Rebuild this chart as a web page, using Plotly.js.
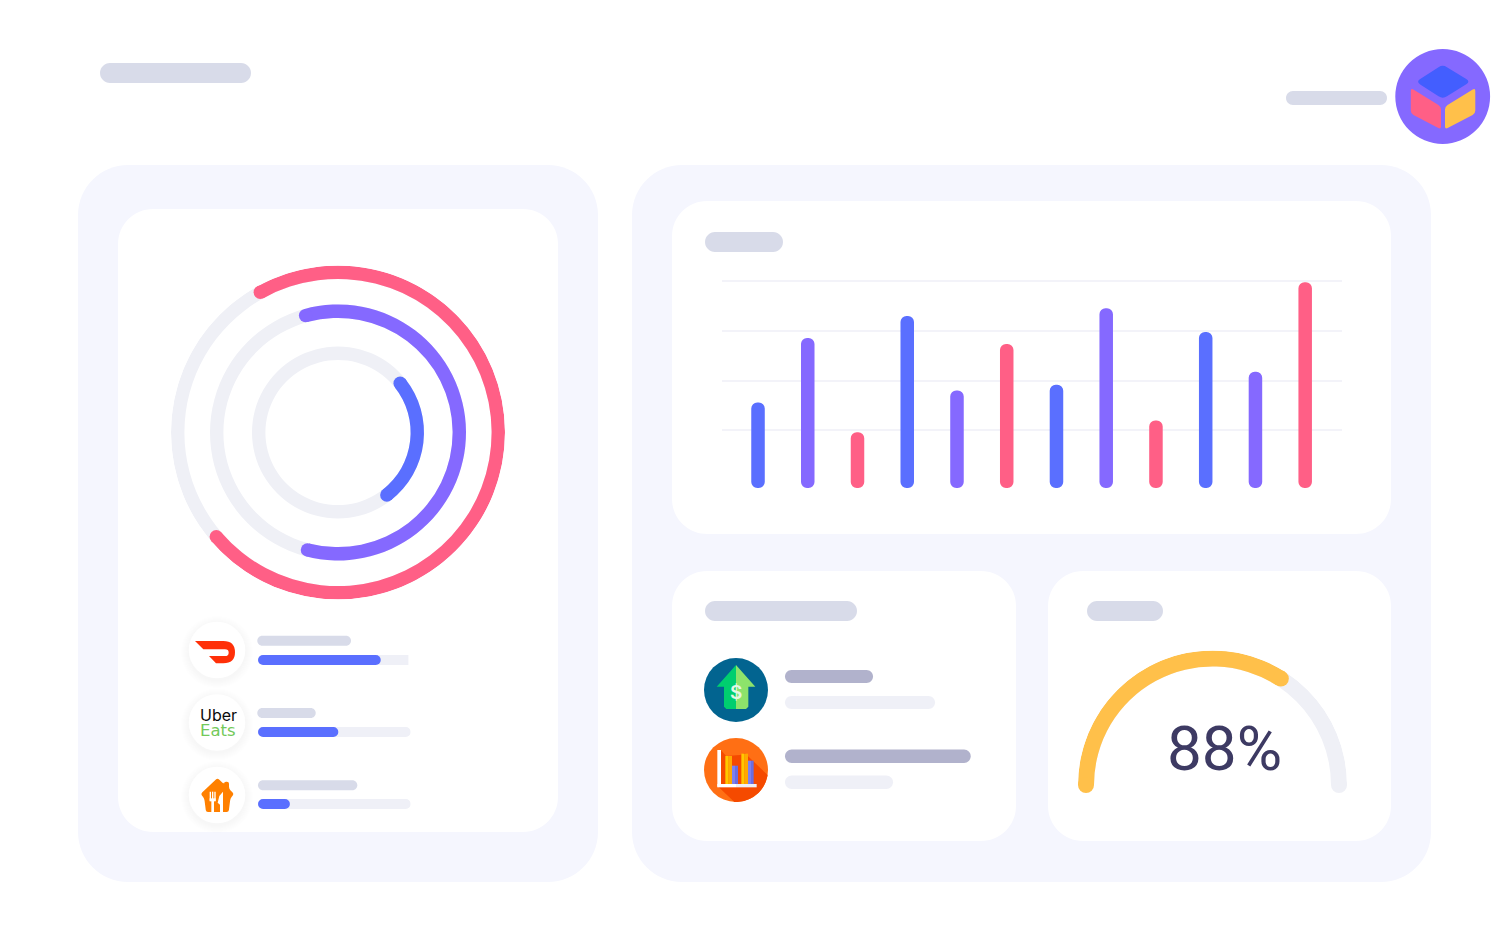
<!DOCTYPE html>
<html><head><meta charset="utf-8">
<script src="https://cdn.plot.ly/plotly-3.0.1.min.js"></script>
<style>html,body{margin:0;padding:0;background:#fff;overflow:hidden}#c{width:1510px;height:949px}</style>
</head><body><div id="c"></div>
<script>
// ---- data ----
const barCategories=['1','2','3','4','5','6','7','8','9','10','11','12'];
const barValues=[78,143,48,165,90,137,96,173,60,149,109,199];
const barColors=['#5a6fff','#8569ff','#ff5f86','#5a6fff','#8569ff','#ff5f86','#5a6fff','#8569ff','#ff5f86','#5a6fff','#8569ff','#ff5f86'];
const gridValues=[50,100,150,200];
const ringRadius=[160.3,121.3,79.3];
const ringStart=[-29,-15.5,51.6];
const ringEnd=[229.4,194.6,142];
const ringColors=['#ff5f86','#8569ff','#5a6fff'];
const gaugeStart=-90, gaugeEnd=32.7, gaugeTrackEnd=90;
const gaugeLabel='88%';
const providers=['DoorDash','Uber Eats','Just Eat'];
const progressValues=[80.4,52.6,20.9];
const progressTrack=[98.5,100,100];

// ---- page helpers ----
const W=1510,H=949;
const X=v=>+(v/W).toFixed(6), Y=v=>+(1-v/H).toFixed(6);
const shapes=[];
const cmd=a=>a.map(c=>{const out=[];for(let i=1;i<c.length;i+=2){out.push(X(c[i])+','+Y(c[i+1]));}return c[0]+out.join(' ');}).join(' ');
function fillPath(a,color,op){shapes.push({type:'path',xref:'paper',yref:'paper',layer:'below',path:cmd(a)+' Z',fillcolor:color,opacity:op==null?1:op,line:{width:0}});}
function rr(x0,y0,x1,y1,r,color){
  const k=r*0.4477;
  fillPath([['M',x0+r,y0],['L',x1-r,y0],['C',x1-k,y0,x1,y0+k,x1,y0+r],['L',x1,y1-r],['C',x1,y1-k,x1-k,y1,x1-r,y1],['L',x0+r,y1],['C',x0+k,y1,x0,y1-k,x0,y1-r],['L',x0,y0+r],['C',x0,y0+k,x0+k,y0,x0+r,y0]],color);
}
function pill(x0,y0,x1,y1,color){rr(x0,y0,x1,y1,(y1-y0)/2,color);}
function circle(cx,cy,r,color,op){shapes.push({type:'circle',xref:'paper',yref:'paper',layer:'below',x0:X(cx-r),x1:X(cx+r),y0:Y(cy+r),y1:Y(cy-r),fillcolor:color,opacity:op==null?1:op,line:{width:0}});}
function rect(x0,y0,x1,y1,color){fillPath([['M',x0,y0],['L',x1,y0],['L',x1,y1],['L',x0,y1]],color);}
function poly(pts,color){fillPath(pts.map((p,i)=>[i?'L':'M',p[0],p[1]]),color);}
function roundPoly(pts,r,color){
  const a=[];const n=pts.length;
  pts.forEach((p,i)=>{
    const q=pts[(i+n-1)%n],s=pts[(i+1)%n];
    const dq=Math.hypot(q[0]-p[0],q[1]-p[1]),ds=Math.hypot(s[0]-p[0],s[1]-p[1]);
    const a0=[p[0]+(q[0]-p[0])*r/dq,p[1]+(q[1]-p[1])*r/dq],a1=[p[0]+(s[0]-p[0])*r/ds,p[1]+(s[1]-p[1])*r/ds];
    a.push([i?'L':'M',a0[0],a0[1]]);a.push(['Q',p[0],p[1],a1[0],a1[1]]);
  });
  fillPath(a,color);
}

// panels
const PANEL='#f5f6fe',SK='#d8dbe9',SKD='#b1b2cc',SKL='#eff0f7';
rr(78,165,598,882,50,PANEL);
rr(632,165,1431,882,50,PANEL);
rr(118,209,558,832,35,'#fff');
rr(672,201,1391,534,35,'#fff');
rr(672,571,1016,841,35,'#fff');
rr(1048,571,1391,841,35,'#fff');
// skeleton headings
pill(100,63,251,83,SK);
pill(1286,91,1387,105,SK);
pill(705,232,783,252,SK);
pill(705,601,857,621,SK);
pill(1087,601,1163,621,SK);
// finance rows
pill(785,670,873,683,SKD);
pill(785,696,935,709,SKL);
pill(785,749.5,970.7,762.9,SKD);
pill(785,775.5,893,788.9,SKL);
// provider headings
pill(257.3,635.7,351,645.7,SK);
pill(257.3,708,315.7,718,SK);
pill(258,780.3,357.3,790.3,SK);

// cube avatar
circle(1442.7,96.5,47.4,'#8569ff');
roundPoly([[1416,81.7],[1442.7,64.5],[1470.5,81.7],[1442.7,99]],5,'#435eff');
roundPoly([[1410.8,88],[1441,106.5],[1441,129.5],[1410.8,113.5]],3,'#ff5f86');
roundPoly([[1445,106.5],[1475.3,88],[1475.3,113.5],[1445,129.5]],3,'#ffc04a');

// provider icon discs with soft shadow
[[217,650],[217,722.5],[217,795]].forEach(c=>{
  [36,35,34,33,32,31,30,29].forEach(r=>circle(c[0],c[1]+2,r,'#6b6fa0',0.006));
  circle(c[0],c[1],28.3,'#fff');
});
// DoorDash mark
const z1=(x,y)=>[160+x/3,610+y/3];
(function(){
 const p=z1;
 const a=[['M',...p(105,93)],['L',...p(190,93)],['Q',...p(225,93),...p(225,127)],['Q',...p(225,160),...p(190,160)],['L',...p(168,160)],['L',...p(147,138)],['L',...p(195,138)],['Q',...p(206,138),...p(206,128)],['Q',...p(206,118),...p(195,118)],['L',...p(130,118)]];
 fillPath(a,'#ff3008');
})();
// Takeaway mark
(function(){
 const p=z1;
 roundPoly([p(172,504),p(192,522),p(192,515),p(207,515),p(207,536),p(222,552),p(211,566),p(206,606),p(138,606),p(133,566),p(122,552)],2,'#ff8000');
 // fork
 rect(...p(149,545),...p(153,572),'#fff');
 rect(...p(156,545),...p(160,572),'#fff');
 rect(...p(163,545),...p(167,572),'#fff');
 rect(...p(149,565),...p(167,574),'#fff');
 rect(...p(154,572),...p(162,606),'#fff');
 // knife
 poly([p(189,545),p(189,606),p(180,606),p(180,584),p(173,578),p(178,558)],'#fff');
})();

// finance icons
const z2=(x,y)=>[690+x/3,640+y/3];
circle(736,690,32,'#026490');
(function(){const p=z2;
 poly([p(138,75),p(80,140),p(102,140),p(102,200),p(109,207),p(138,207)],'#00ce6f');
 poly([p(138,75),p(196,140),p(175,140),p(175,200),p(168,207),p(138,207)],'#8de36b');
})();
circle(736,770,32,'#ff6f14');
(function(){const p=z2;
 const arc=[];for(let t=99;t<=188;t+=6){const r=t*Math.PI/180;arc.push([736+32*Math.sin(r),770-32*Math.cos(r)]);}
 poly([p(93,330),p(108,348),p(150,345),p(165,340),...arc,p(85,440)],'#f54a00');
 rect(...p(82,330),...p(93,440),'#fff');
 rect(...p(82,432),...p(138,442),'#fff');
 rect(...p(138,432),...p(200,442),'#eef0f6');
 rect(...p(106,348),...p(116,432),'#ffc800');
 rect(...p(116,348),...p(126,432),'#ffa800');
 rect(...p(126,377),...p(135,432),'#7d80ee');
 rect(...p(135,377),...p(144,432),'#6a6de0');
 rect(...p(154,341),...p(164,432),'#ffc800');
 rect(...p(164,341),...p(174,432),'#ffa800');
 rect(...p(174,362),...p(183,432),'#7d80ee');
 rect(...p(183,362),...p(191,432),'#6a6de0');
})();

// ---- traces ----
const traces=[];
const RT=13.4;
// rings: polar subplot 1
traces.push({type:'barpolar',subplot:'polar',hoverinfo:'skip',
  r:ringRadius.map(()=>RT),base:ringRadius.map(r=>r-RT/2),theta:ringRadius.map(()=>180),width:ringRadius.map(()=>359.99),
  marker:{color:'#eff0f6',line:{width:0}}});
traces.push({type:'barpolar',subplot:'polar',hoverinfo:'skip',
  r:ringRadius.map(()=>RT),base:ringRadius.map(r=>r-RT/2),
  theta:ringStart.map((s,i)=>(s+ringEnd[i])/2),width:ringStart.map((s,i)=>ringEnd[i]-s),
  marker:{color:ringColors,line:{width:0}}});
traces.push({type:'scatterpolar',subplot:'polar',mode:'markers',hoverinfo:'skip',
  r:[...ringRadius,...ringRadius],theta:[...ringStart,...ringEnd],
  marker:{size:RT,color:[...ringColors,...ringColors],line:{width:0}}});
// gauge: polar subplot 2
traces.push({type:'barpolar',subplot:'polar2',hoverinfo:'skip',
  r:[16],base:[118.5],theta:[(gaugeStart+gaugeTrackEnd)/2],width:[gaugeTrackEnd-gaugeStart],marker:{color:'#eff0f6',line:{width:0}}});
traces.push({type:'barpolar',subplot:'polar2',hoverinfo:'skip',
  r:[16],base:[118.5],theta:[(gaugeStart+gaugeEnd)/2],width:[gaugeEnd-gaugeStart],marker:{color:'#ffc04a',line:{width:0}}});
traces.push({type:'scatterpolar',subplot:'polar2',mode:'markers',hoverinfo:'skip',
  r:[126.5],theta:[gaugeTrackEnd],marker:{size:16,color:'#eff0f6',line:{width:0}}});
traces.push({type:'scatterpolar',subplot:'polar2',mode:'markers',hoverinfo:'skip',
  r:[126.5,126.5],theta:[gaugeStart,gaugeEnd],marker:{size:16,color:'#ffc04a',line:{width:0}}});
// bar chart: one bar per value, its base sits just under the zero line
const barW=0.2715, barFoot=-8;
traces.push({type:'bar',xaxis:'x',yaxis:'y',hoverinfo:'skip',x:barCategories,y:barValues.map(v=>v-barFoot),base:barFoot,width:barW,
  marker:{color:barColors,cornerradius:6.7,line:{width:0}}});
// provider progress bars
const rowW=10/72, foot=0.01;
traces.push({type:'bar',orientation:'h',xaxis:'x2',yaxis:'y2',hoverinfo:'skip',y:providers.slice(0,1),x:[progressTrack[0]-foot-4],base:foot+4,width:rowW,
  marker:{color:'#eff0f7',line:{width:0}}});
traces.push({type:'bar',orientation:'h',xaxis:'x2',yaxis:'y2',hoverinfo:'skip',y:providers.slice(1),x:progressTrack.slice(1).map(v=>v-foot),base:foot,width:rowW,
  marker:{color:'#eff0f7',cornerradius:5,line:{width:0}}});
traces.push({type:'bar',orientation:'h',xaxis:'x2',yaxis:'y2',hoverinfo:'skip',y:providers,x:progressValues.map(v=>v-foot),base:foot,width:rowW,
  marker:{color:'#5a6fff',cornerradius:5,line:{width:0}}});

const polarBase={barmode:'overlay',bgcolor:'rgba(0,0,0,0)',
  angularaxis:{visible:false,direction:'clockwise',rotation:90,thetaunit:'degrees'}};
const layout={width:W,height:H,autosize:false,margin:{l:0,r:0,t:0,b:0,pad:0},showlegend:false,
  paper_bgcolor:'#fff',plot_bgcolor:'rgba(0,0,0,0)',barmode:'overlay',shapes:shapes,
  polar:Object.assign({},polarBase,{domain:{x:[X(171),X(505)],y:[Y(599.5),Y(265.5)]},radialaxis:{visible:false,range:[0,167]}}),
  polar2:Object.assign({},polarBase,{domain:{x:[X(1078),X(1347)],y:[Y(919.5),Y(650.5)]},radialaxis:{visible:false,range:[0,134.5]}}),
  xaxis:{domain:[X(722),X(1342)],anchor:'y',type:'category',range:[-0.724,11.74],showgrid:false,zeroline:false,showline:false,showticklabels:false,ticks:''},
  yaxis:{domain:[Y(495),Y(270)],anchor:'x',range:[-15.1,211.4],tickmode:'array',tickvals:gridValues,showgrid:true,gridcolor:'#f3f3f9',gridwidth:2,zeroline:false,showline:false,showticklabels:false,ticks:''},
  xaxis2:{domain:[X(258),X(410.7)],anchor:'y2',range:[0,100],visible:false},
  yaxis2:{domain:[(949-840)/949,(949-624)/949],anchor:'x2',type:'category',categoryorder:'array',categoryarray:providers,range:[2.5,-0.5],visible:false},
  annotations:[
   {xref:'paper',yref:'paper',x:X(1225),y:Y(748.5),xanchor:'center',yanchor:'middle',showarrow:false,text:gaugeLabel,font:{family:'Roboto',size:62,color:'#3d3a63',weight:400}},
   {xref:'paper',yref:'paper',x:X(218),y:Y(715),xanchor:'center',yanchor:'middle',showarrow:false,text:'Uber',font:{family:'Inter',size:16,color:'#0b0b0b'}},
   {xref:'paper',yref:'paper',x:X(218),y:Y(730),xanchor:'center',yanchor:'middle',showarrow:false,text:'Eats',font:{family:'DejaVu Sans',size:16.5,color:'#73c95a'}},
   {xref:'paper',yref:'paper',x:X(736),y:Y(693),xanchor:'center',yanchor:'middle',showarrow:false,text:'$',font:{family:'Inter',size:19,color:'#e4f7e4',weight:600}}
  ]};
Plotly.newPlot('c',traces,layout,{displayModeBar:false,staticPlot:true,responsive:false});
</script></body></html>
